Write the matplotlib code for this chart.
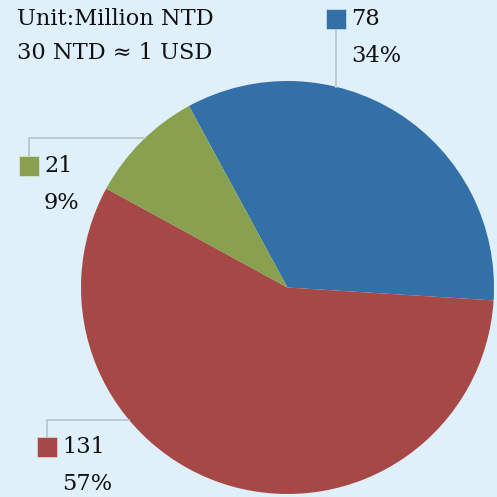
import numpy as np
import matplotlib
matplotlib.use("Agg")
import matplotlib.pyplot as plt

# spending split, million NTD
values = [78, 131, 21]
colors = ["#3370a8", "#a64845", "#89a04f"]
header = ["Unit:Million NTD", "30 NTD \u2248 1 USD"]

W = H = 497
BG = "#e0f0fa"
LINE = "#b8c8d2"
TXT = "#111111"
FS = 16.2
CX, CY, R = 287.5, 287.5, 206.5

plt.rcParams["font.family"] = ["DejaVu Serif"]

fig = plt.figure(figsize=(W / 100, H / 100), dpi=100, facecolor=BG)
ax = fig.add_axes([0, 0, 1, 1])


def fy(y):
    # pixel row (top-down) -> axes y
    return H - y


ax.pie(values, colors=colors, startangle=118.5, counterclock=False,
       center=(CX, fy(CY)), radius=R, frame=True,
       wedgeprops=dict(linewidth=0))
ax.set_xlim(0, W)
ax.set_ylim(0, H)
ax.set_aspect("equal")
ax.axis("off")

for i, line in enumerate(header):
    ax.text(17, fy(19 + i * 34), line, fontsize=FS, va="center", ha="left",
            color=TXT)

total = sum(values)
# label anchors per slice (blue, red, green): square centre and leader geometry
labels = [
    dict(sq=(336, 19), kind="down"),
    dict(sq=(47, 447), kind="elbow", ly=420),
    dict(sq=(29, 166), kind="elbow", ly=138),
]

for v, c, lab in zip(values, colors, labels):
    sx, sy = lab["sq"]
    if lab["kind"] == "down":
        ey = CY - np.sqrt(R ** 2 - (sx - CX) ** 2)
        ax.plot([sx, sx], [fy(sy + 10), fy(ey)], color=LINE, lw=1.3, zorder=1)
    else:
        ly = lab["ly"]
        ex = CX - np.sqrt(R ** 2 - (ly - CY) ** 2)
        ax.plot([sx, sx, ex], [fy(sy - 10), fy(ly), fy(ly)], color=LINE,
                lw=1.3, zorder=1)
    ax.add_patch(plt.Rectangle((sx - 10, fy(sy + 10)), 20, 20, facecolor=c,
                               edgecolor="#ffffff80", lw=0.6, zorder=3))
    ax.text(sx + 15, fy(sy), str(v), fontsize=FS, va="center", ha="left",
            color=TXT)
    ax.text(sx + 15, fy(sy + 37), f"{round(v / total * 100)}%", fontsize=FS,
            va="center", ha="left", color=TXT)

fig.savefig("out.png", dpi=100, facecolor=BG)
